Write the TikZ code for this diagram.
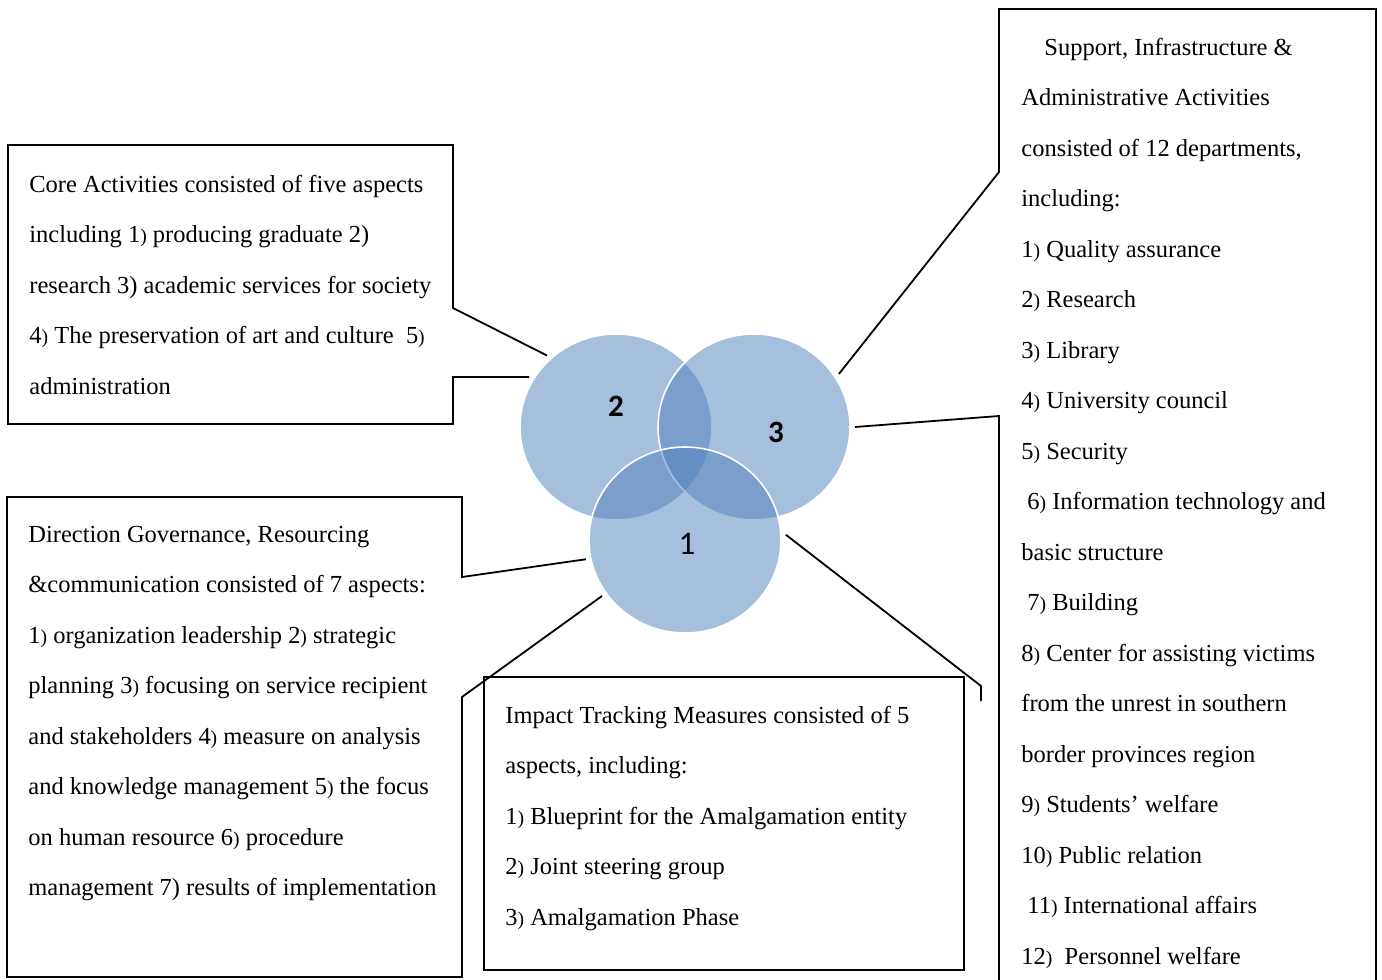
\documentclass[tikz,border=0pt]{standalone}
\usepackage{fontspec}
\setmainfont{Liberation Serif}
\newfontfamily\calfont{Carlito}
\usetikzlibrary{shapes.geometric}
\newcommand\rpar{{\fontsize{9.8}{9.8}\selectfont)}}
\newcommand\topstrut{\rule{0pt}{12pt}}
\definecolor{vennblue}{RGB}{79,129,189}
\begin{document}
\begin{tikzpicture}[x=0.5pt,y=-0.5pt,
  boxline/.style={line width=0.9pt, line join=miter},
  txt/.style={anchor=north west, inner sep=0pt, align=left, font=\fontsize{12.25}{25.25}\selectfont},
  venn/.style={ellipse, minimum width=96pt, minimum height=93pt, inner sep=0pt, outer sep=2.5pt,
    fill=vennblue, fill opacity=0.5, draw=white, line width=0.8pt},
  numlbl/.style={inner sep=0pt, font=\calfont\fontsize{15.5}{15.5}\selectfont},
]
\useasboundingbox (0,0) rectangle (1382,980);
\clip (0,0) rectangle (1382,980);
\fill[white] (0,0) rectangle (1382,980);

% circles
\node[venn] (c2) at (616,427) {};
\node[venn] (c3) at (754,427) {};
\node[venn] (c1) at (685,540) {};
\node[numlbl, font=\calfont\bfseries\fontsize{15.5}{15.5}\selectfont] (l2) at (616,406) {2};
\node[numlbl, font=\calfont\bfseries\fontsize{15.5}{15.5}\selectfont] (l3) at (776,432) {3};
\node[numlbl, font=\calfont\fontsize{16.5}{16.5}\selectfont] (l1) at (687,544) {1};

% callout outlines
\draw[boxline] (c2.150) -- (453,377) -- (453,424) -- (8,424) -- (8,145) -- (453,145) -- (453,308) -- (c2.134);
\draw[boxline] (c1.214) -- (462,697) -- (462,977) -- (7,977) -- (7,497) -- (462,497) -- (462,577) -- (c1.191);
\draw[boxline] (484,677) rectangle (964,970);
\draw[boxline] (c1.3) -- (981,686) -- (981,701);
\draw[boxline] (c3.0) -- (999,416) -- (999,990);
\draw[boxline] (c3.32) -- (999,172) -- (999,9) -- (1376,9) -- (1376,990);

% texts
\node[txt] (ta) at (29,168) {\topstrut Core Activities consisted of five aspects\\
including 1\rpar{} producing graduate 2)\\
research 3) academic services for society\\
4\rpar{} The preservation of art and culture\ \ 5\rpar\\
administration};

\node[txt] (tb) at (28,518) {\topstrut Direction Governance, Resourcing\\
\&communication consisted of 7 aspects:\\
1\rpar{} organization leadership 2\rpar{} strategic\\
planning 3\rpar{} focusing on service recipient\\
and stakeholders 4\rpar{} measure on analysis\\
and knowledge management 5\rpar{} the focus\\
on human resource 6\rpar{} procedure\\
management 7) results of implementation};

\node[txt] (tc) at (505,699) {\topstrut Impact Tracking Measures consisted of 5\\
aspects, including:\\
1\rpar{} Blueprint for the Amalgamation entity\\
2\rpar{} Joint steering group\\
3\rpar{} Amalgamation Phase};

\node[txt] (td) at (1021,31) {\topstrut\hspace{11.5pt}Support, Infrastructure \&\\
Administrative Activities\\
consisted of 12 departments,\\
including:\\
1\rpar{} Quality assurance\\
2\rpar{} Research\\
3\rpar{} Library\\
4\rpar{} University council\\
5\rpar{} Security\\
\hspace{3pt}6\rpar{} Information technology and\\
basic structure\\
\hspace{3pt}7\rpar{} Building\\
8\rpar{} Center for assisting victims\\
from the unrest in southern\\
border provinces region\\
9\rpar{} Students’ welfare\\
10\rpar{} Public relation\\
\hspace{3pt}11\rpar{} International affairs\\
12\rpar{}\ \ Personnel welfare};
\end{tikzpicture}
\end{document}
